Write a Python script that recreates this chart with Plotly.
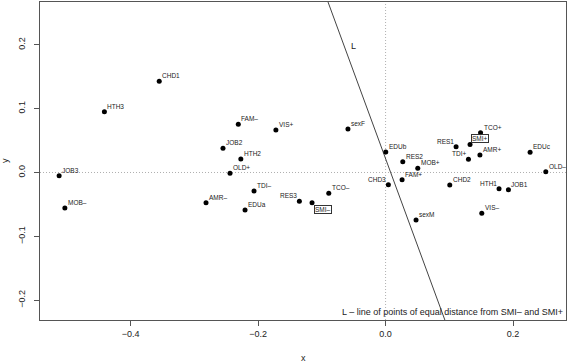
import plotly.graph_objects as go

# ---- data ----
labels = ["CHD1", "HTH3", "JOB3", "MOB-", "FAM-", "VIS+", "sexF", "JOB2", "HTH2", "OLD+",
          "TCO+", "SMI+", "RES1", "AMR+", "TDI+", "EDUc", "EDUb", "RES2", "MOB+", "OLD-",
          "FAM+", "CHD3", "CHD2", "HTH1", "JOB1", "VIS-", "sexM",
          "TDI-", "AMR-", "EDUa", "RES3", "SMI-", "TCO-"]
xs = [-0.355, -0.441, -0.512, -0.503, -0.231, -0.172, -0.059, -0.255, -0.227, -0.244,
      0.149, 0.1325, 0.1106, 0.148, 0.130, 0.2267, 0.0003, 0.027, 0.0505, 0.2513,
      0.0259, 0.0044, 0.1007, 0.178, 0.1927, 0.1509, 0.0478,
      -0.2063, -0.2816, -0.2204, -0.1352, -0.1153, -0.0891]
ys = [0.143, 0.095, -0.005, -0.0556, 0.0754, 0.0665, 0.068, 0.0378, 0.021, -0.0013,
      0.0623, 0.044, 0.0404, 0.0274, 0.0206, 0.0316, 0.032, 0.0169, 0.0066, 0.0013,
      -0.0113, -0.019, -0.0196, -0.0253, -0.0269, -0.0639, -0.0743,
      -0.029, -0.0472, -0.0587, -0.045, -0.0472, -0.0326]
left_labels = ["RES1", "TDI+", "HTH1", "CHD3", "RES3"]
boxed_labels = ["SMI+", "SMI-"]
x_ticks = [-0.4, -0.2, 0.0, 0.2]
y_ticks = [-0.2, -0.1, 0.0, 0.1, 0.2]
x_range = [-0.542, 0.283]
y_range = [-0.231, 0.267]
legend_text = "L \u2013 line of points of equal distance from SMI\u2013 and SMI+"

FONT = "Liberation Sans, Arial, Helvetica, sans-serif"
disp = lambda s: s.replace("-", "\u2013")

fig = go.Figure()

# perpendicular bisector of SMI- and SMI+
i_m, i_p = labels.index("SMI-"), labels.index("SMI+")
xm, ym, xp, yp = xs[i_m], ys[i_m], xs[i_p], ys[i_p]
mx, my = (xm + xp) / 2, (ym + yp) / 2
dx, dy = xp - xm, yp - ym
ly = [y_range[0] - 0.05, y_range[1] + 0.05]
lx = [mx - dy * (yy - my) / dx for yy in ly]
fig.add_trace(go.Scatter(x=lx, y=ly, mode="lines", line=dict(color="#444", width=1),
                         hoverinfo="skip", showlegend=False))

fig.add_trace(go.Scatter(x=xs, y=ys, mode="markers",
                         marker=dict(color="black", size=5),
                         showlegend=False, cliponaxis=False))

# dotted reference lines
dot = dict(color="#b0b0b0", width=1, dash="1px,2px")
fig.add_shape(type="line", xref="x", yref="paper", x0=0, x1=0, y0=0, y1=1,
              line=dot, layer="below")
fig.add_shape(type="line", xref="paper", yref="y", x0=0, x1=1, y0=0, y1=0,
              line=dot, layer="below")

for lab, x, y in zip(labels, xs, ys):
    if lab in boxed_labels:
        if lab == "SMI+":
            fig.add_annotation(x=x, y=y, text=disp(lab), showarrow=False,
                               xanchor="left", yanchor="bottom", xshift=1, yshift=1,
                               font=dict(family=FONT, size=6.5, color="#222"),
                               bordercolor="#333", borderwidth=1, borderpad=0)
        else:
            fig.add_annotation(x=x, y=y, text=disp(lab), showarrow=False,
                               xanchor="left", yanchor="top", xshift=2, yshift=-2,
                               font=dict(family=FONT, size=6.5, color="#222"),
                               bordercolor="#333", borderwidth=1, borderpad=0)
        continue
    left = lab in left_labels
    fig.add_annotation(x=x, y=y, text=disp(lab), showarrow=False,
                       xanchor="right" if left else "left", yanchor="bottom",
                       xshift=0 if left else 1, yshift=0,
                       font=dict(family=FONT, size=6.5, color="#222"))

# L label
fig.add_annotation(x=(353 - 385.5) / 637.5, y=(172.5 - 45.5) / 639, text="L", showarrow=False,
                   font=dict(family=FONT, size=9, color="#222"))
# legend text
fig.add_annotation(xref="paper", yref="paper", x=1, y=0, text=legend_text, showarrow=False,
                   xanchor="right", yanchor="bottom", yshift=1, xshift=-1,
                   font=dict(family=FONT, size=9, color="#222"))
# axis titles
fig.add_annotation(xref="paper", yref="paper", x=0.5, y=0, yshift=-38, text="x",
                   showarrow=False, yanchor="middle", font=dict(family=FONT, size=9, color="#222"))
fig.add_annotation(xref="paper", yref="paper", x=0, y=0.5, xshift=-35, text="y",
                   showarrow=False, xanchor="center", textangle=-90,
                   font=dict(family=FONT, size=9, color="#222"))

axis_common = dict(showgrid=False, zeroline=False, showline=True, mirror=True,
                   linecolor="#555", linewidth=1, ticks="outside", ticklen=5,
                   tickcolor="#555", tickfont=dict(family=FONT, size=9, color="#222"))
fig.update_xaxes(range=x_range, tickvals=x_ticks, tickformat=".1f", **axis_common)
fig.update_yaxes(range=y_range, tickvals=y_ticks, tickformat=".1f", tickangle=-90,
                 ticklabelstandoff=5, **axis_common)

fig.update_layout(width=567, height=362, margin=dict(l=40, r=1, t=2, b=42),
                  plot_bgcolor="white", paper_bgcolor="white",
                  font=dict(family=FONT))
fig.write_html("out.html", config={"displayModeBar": False},
               post_script="document.body.style.margin='0';document.body.style.overflow='hidden';")
